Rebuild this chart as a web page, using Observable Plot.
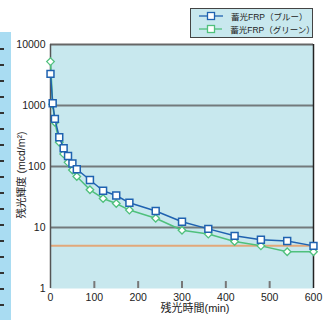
<!DOCTYPE html>
<html><head><meta charset="utf-8">
<script src="https://cdn.jsdelivr.net/npm/d3@7"></script>
<script src="https://cdn.jsdelivr.net/npm/@observablehq/plot@0.6"></script>
<style>
body{margin:0;background:#fff;font-family:"Liberation Sans","Noto Sans CJK JP",sans-serif;}
#wrap{position:relative;width:330px;height:320px;overflow:hidden;}
#strip{position:absolute;left:0;top:32px;width:11px;height:288px;background:#a9dcf2;}
.tk{position:absolute;left:0;width:4px;height:1.5px;background:#333;}
#legend{position:absolute;left:190px;top:8px;width:121px;height:28px;background:#c8e8ee;border:1px solid #444;font-size:8.5px;color:#222;}
#legend .row{position:absolute;left:8px;height:12px;display:flex;align-items:center;}
#legend svg{margin-right:8px;}
</style></head>
<body><div id="wrap"><div id="strip"></div>
<div id="legend"></div>
</div>
<script>
const times = [0,5,10,20,30,40,50,60,90,120,150,180,240,300,360,420,480,540,600];
const blueVals = [3300,1090,604,301,199,149,112,90,60,40,33.5,25.4,18.6,12.4,9.5,7.3,6.3,6.0,5.0];
const greenVals = [5240,1050,531,249,161,117,87.5,68.7,41.5,29.9,24.7,19.3,14.2,9.0,7.8,5.9,5.0,4.0,4.0];
const seriesNames = ["蓄光FRP（ブルー）","蓄光FRP（グリーン）"];
const yTicks = [1,10,100,1000,10000];
const xTicks = [0,100,200,300,400,500,600];
const innerXTicks = [100,200,300,400,500];
const refLevel = 5;
const xLabel = "残光時間(min)";
const yLabel = "残光輝度 (mcd/m²)";

const BLUE = "#1f62b0", GREEN = "#4fc07c";
const blueData = times.map((t,i)=>({t, v: blueVals[i]}));
const greenData = times.map((t,i)=>({t, v: greenVals[i]}));

const chart = Plot.plot({
  width:330, height:320, marginLeft:50, marginRight:17, marginTop:44, marginBottom:32,
  style:{fontFamily:'"Liberation Sans","Noto Sans CJK JP",sans-serif', fontSize:"10.5px", color:"#222", background:"transparent"},
  x:{domain:[0,600]},
  y:{type:"log", domain:[1,10000]},
  marks:[
    Plot.frame({fill:"#c8e8ee", stroke:null}),
    Plot.ruleY([10,100,1000], {stroke:"#737a7c", strokeWidth:2}),
    Plot.ruleY([10000], {stroke:"#666", strokeWidth:2}),
    Plot.ruleY([refLevel], {stroke:"#e2a87a", strokeWidth:2}),
    Plot.ruleX(innerXTicks, {y1:1, y2:1.3, stroke:"#777", strokeWidth:2}),
    Plot.ruleX([0], {stroke:"#555", strokeWidth:1.5}),
    Plot.ruleX([600], {stroke:"#222", strokeWidth:1.5}),
    Plot.axisY(yTicks, {tickSize:0, tickPadding:5, tickFormat:d=>String(d), label:null}),
    Plot.axisY([refLevel], {tickSize:0, tickPadding:5, fill:"#f08226", label:null}),
    Plot.axisX(xTicks, {tickSize:0, tickPadding:5, label:null}),
    Plot.text([yLabel], {frameAnchor:"left", dx:-29, dy:52, rotate:-90, fontSize:10.5, fill:"#222"}),
    Plot.text([xLabel], {frameAnchor:"bottom", dy:23, dx:13, fontSize:11, fill:"#222"}),
    Plot.line(greenData, {x:"t", y:"v", stroke:GREEN, strokeWidth:1.5}),
    Plot.dot(greenData, {x:"t", y:"v", symbol:"diamond2", r:3.4, stroke:GREEN, fill:"white", strokeWidth:1.3}),
    Plot.line(blueData, {x:"t", y:"v", stroke:BLUE, strokeWidth:1.5}),
    Plot.dot(blueData, {x:"t", y:"v", symbol:"square", r:3.9, stroke:BLUE, fill:"white", strokeWidth:1.5})
  ]
});
chart.style.position = "absolute";
chart.style.left = "0"; chart.style.top = "0";
document.getElementById("wrap").appendChild(chart);

const strip = document.getElementById("strip");
for (let y = 16; y < 288; y += 16) {
  const d = document.createElement("div"); d.className = "tk"; d.style.top = y + "px"; strip.appendChild(d);
}

const legend = document.getElementById("legend");
[[BLUE, seriesNames[0]], [GREEN, seriesNames[1]]].forEach(([c, name], i) => {
  const row = document.createElement("div"); row.className = "row"; row.style.top = (1 + i*13) + "px";
  row.innerHTML = `<svg width="24" height="10"><line x1="0" x2="24" y1="5" y2="5" stroke="${c}" stroke-width="1.3"/><rect x="8.5" y="1.5" width="7" height="7" fill="white" stroke="${c}" stroke-width="1.3"/></svg><span>${name}</span>`;
  legend.appendChild(row);
});
</script></body></html>
